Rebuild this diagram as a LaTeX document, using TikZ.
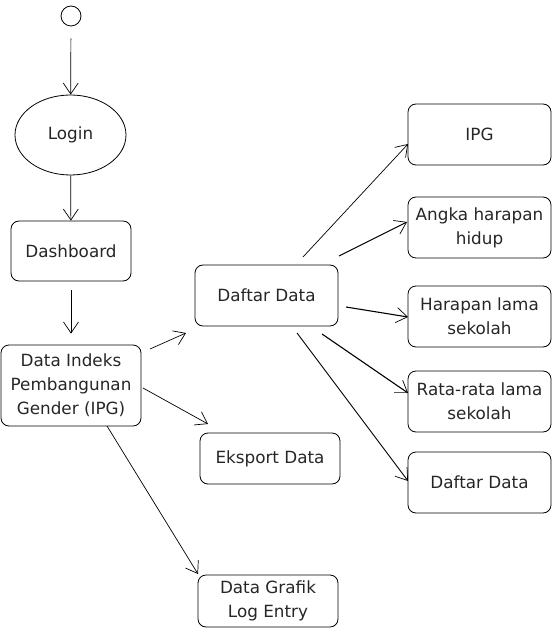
\documentclass[tikz,border=0pt]{standalone}
\usepackage{fontspec}
\setmainfont{DejaVu Sans}
\usetikzlibrary{arrows.meta,shapes.geometric}
\begin{document}
\begin{tikzpicture}[x=1pt,y=-1pt,
  every node/.style={font=\fontsize{16.8}{24}\selectfont, text=black!85},
  box/.style={draw, rounded corners=8pt, align=center, inner sep=0pt, line width=0.8pt},
  arr/.style={draw, line width=0.7pt, -{Straight Barb[length=11pt,width=15pt,line width=0.7pt]}},
  arrb/.style={arr, line width=1.1pt}]
\useasboundingbox (0,0) rectangle (553,628);
\node[circle, draw, minimum size=20pt, inner sep=0pt, line width=0.8pt] (start) at (71,16) {};
\node[ellipse, draw, minimum width=111pt, minimum height=80pt, inner sep=0pt, line width=0.8pt] (login) at (70.5,135) {Login};
\node[box, minimum width=120pt, minimum height=60pt] (dash) at (71,251) {Dashboard};
\node[box, minimum width=140pt, minimum height=81pt] (idx) at (71,385.5) {Data Indeks\\Pembangunan\\Gender (IPG)};
\node[box, minimum width=143pt, minimum height=61pt] (daftar) at (266.5,295.5) {Daftar Data};
\node[box, minimum width=140pt, minimum height=51pt] (eks) at (270,458.5) {Eksport Data};
\node[box, minimum width=140pt, minimum height=52pt] (graf) at (268,601) {Data Grafik\\Log Entry};
\node[box, minimum width=143pt, minimum height=61pt] (ipg) at (479.5,134.5) {IPG};
\node[box, minimum width=143pt, minimum height=61pt] (ahh) at (479.5,227.5) {Angka harapan\\hidup};
\node[box, minimum width=143pt, minimum height=61pt] (hls) at (479.5,316.5) {Harapan lama\\sekolah};
\node[box, minimum width=143pt, minimum height=61pt] (rls) at (479.5,401.5) {Rata-rata lama\\sekolah};
\node[box, minimum width=143pt, minimum height=61pt] (dd2) at (479.5,482.5) {Daftar Data};
% free ends
\coordinate (s1) at (150,349); \coordinate (e1) at (186,333);
\coordinate (s2) at (143,388); \coordinate (e2) at (208,424);
\coordinate (s3) at (107,426); \coordinate (e3) at (198,574);
\coordinate (s4) at (303,257); \coordinate (e4) at (408,144);
\coordinate (s5) at (339,256); \coordinate (e5) at (407,222);
\coordinate (s6) at (346,307); \coordinate (e6) at (408,317);
\coordinate (s7) at (322,334); \coordinate (e7) at (408,393);
\coordinate (s8) at (297,333); \coordinate (e8) at (408,481);
\draw[arr, shorten <=12pt] (start) -- (login);
\draw[arr] (login) -- (dash);
\draw[arr, shorten <=9pt, shorten >=11pt] (dash) -- (idx);
\draw[arr] (s1) -- (e1);
\draw[arr] (s2) -- (e2);
\draw[arr] (s3) -- (e3);
\draw[arr] (s4) -- (e4);
\draw[arrb] (s5) -- (e5);
\draw[arrb] (s6) -- (e6);
\draw[arrb] (s7) -- (e7);
\draw[arr, line width=0.9pt] (s8) -- (e8);
\end{tikzpicture}
\end{document}
